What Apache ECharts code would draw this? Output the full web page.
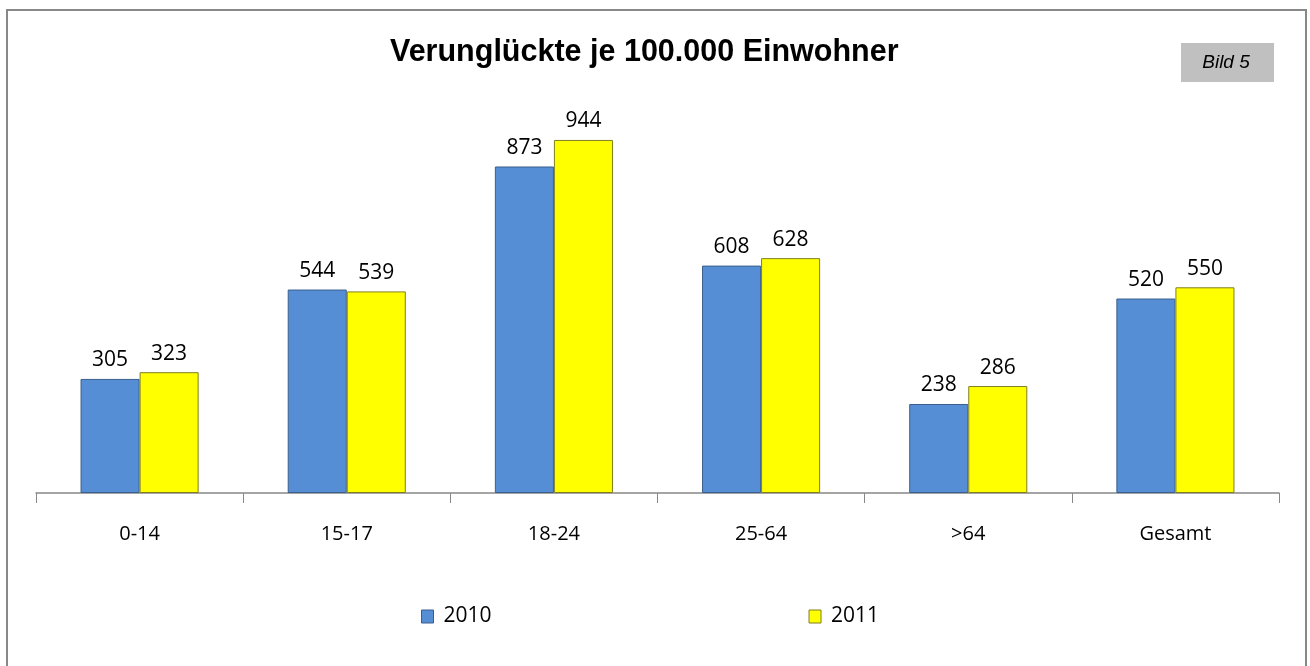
<!DOCTYPE html>
<html>
<head>
<meta charset="utf-8">
<script src="https://cdn.jsdelivr.net/npm/echarts@6/dist/echarts.min.js"></script>
<style>
  html, body { margin: 0; padding: 0; background: #fff; }
  #chart { width: 1310px; height: 666px; }
</style>
</head>
<body>
<div id="chart"></div>
<script>
const categories = ["0-14", "15-17", "18-24", "25-64", ">64", "Gesamt"];
const values2010 = [305, 544, 873, 608, 238, 520];
const values2011 = [323, 539, 944, 628, 286, 550];

const labelFont = "'Open Sans', 'Noto Sans', sans-serif";

const chart = echarts.init(document.getElementById("chart"));

function barSeries(name, data, color, border) {
  return {
    name: name,
    type: "bar",
    data: data,
    barGap: "0%",
    barCategoryGap: "43%",
    itemStyle: { color: color, borderColor: border, borderWidth: 1 },
    label: {
      show: true,
      position: "top",
      distance: 8,
      color: "#000",
      fontSize: 21,
      fontFamily: labelFont
    }
  };
}

chart.setOption({
  animation: false,
  backgroundColor: "#fff",
  title: {
    text: "Verunglückte je 100.000 Einwohner",
    left: 385,
    top: 32,
    textStyle: {
      fontFamily: "'Liberation Sans', Arial, sans-serif",
      fontWeight: "bold",
      fontSize: 30.5,
      color: "#000"
    }
  },
  graphic: [
    {
      type: "rect",
      shape: { x: 7, y: 10, width: 1299, height: 660 },
      style: { fill: "none", stroke: "#888", lineWidth: 2 },
      silent: true
    },
    {
      type: "rect",
      shape: { x: 1181, y: 43, width: 93, height: 39 },
      style: { fill: "#c0c0c0" },
      silent: true
    },
    {
      type: "text",
      x: 1226,
      y: 63,
      style: {
        text: "Bild 5",
        fill: "#000",
        font: "italic 19px 'Liberation Sans', Arial, sans-serif",
        textAlign: "center",
        textVerticalAlign: "middle"
      },
      silent: true
    }
  ],
  legend: {
    left: 416,
    top: 601,
    itemWidth: 12,
    itemHeight: 13,
    itemGap: 317,
    icon: "rect",
    itemStyle: { borderWidth: 1 },
    textStyle: { fontSize: 21, fontFamily: labelFont, color: "#000", padding: [0, 0, 0, 5] },
    data: ["2010", "2011"]
  },
  grid: { left: 36, right: 31, top: 119, bottom: 173 },
  xAxis: {
    type: "category",
    data: categories,
    axisLine: { lineStyle: { color: "#888", width: 1.5 } },
    axisTick: { show: true, length: 10, lineStyle: { color: "#888" } },
    axisLabel: {
      color: "#000",
      fontSize: 20,
      fontFamily: labelFont,
      margin: 31
    }
  },
  yAxis: {
    type: "value",
    min: 0,
    max: 1000,
    show: false,
    splitLine: { show: false }
  },
  series: [
    barSeries("2010", values2010, "#558ed5", "#3b5f8c"),
    barSeries("2011", values2011, "#ffff00", "#7f7f20")
  ]
});
</script>
</body>
</html>
